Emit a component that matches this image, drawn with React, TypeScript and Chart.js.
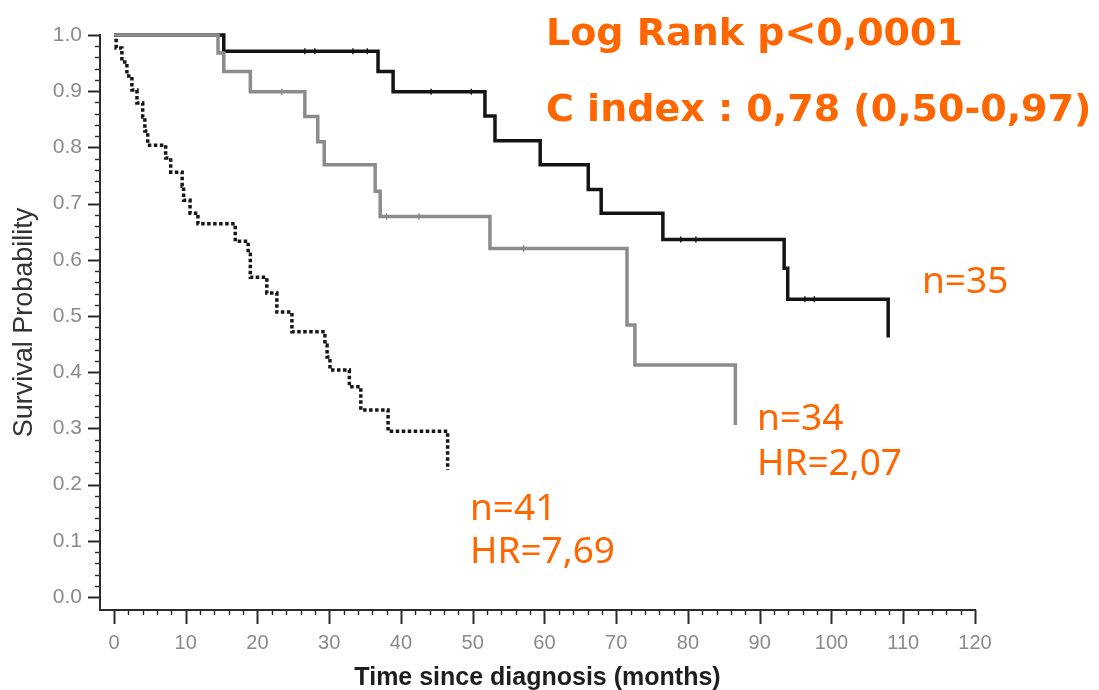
import React, { useEffect, useRef } from 'react';
import { Chart, registerables } from 'chart.js';

Chart.register(...registerables);

// ---- Data (months, survival probability) ----
// Group with best prognosis (n=35), solid black
const highTimes = [0, 15.3, 36.8, 38.9, 51.7, 53.1, 59.4, 66.1, 67.9, 76.5, 93.4, 93.9, 107.9];
const highSurv = [1, 0.971, 0.935, 0.899, 0.856, 0.812, 0.769, 0.725, 0.683, 0.636, 0.585, 0.53, 0.462];
const highCensorTimes = [26.6, 28.0, 33.3, 35.3, 44.2, 49.8, 79.0, 81.1, 96.3, 97.6];
const highCensorSurv = [0.971, 0.971, 0.971, 0.971, 0.899, 0.899, 0.636, 0.636, 0.53, 0.53];

// Intermediate group (n=34), solid grey
const midTimes = [0, 14.5, 15.3, 19.0, 26.6, 28.4, 29.3, 36.4, 37.1, 52.4, 71.5, 72.6, 86.6];
const midSurv = [1, 0.968, 0.935, 0.899, 0.855, 0.81, 0.769, 0.722, 0.677, 0.62, 0.484, 0.413, 0.306];
const midCensorTimes = [23.4, 38.0, 42.5, 57.1];
const midCensorSurv = [0.899, 0.677, 0.677, 0.62];

// Poor prognosis group (n=41), dotted black
const lowTimes = [0, 0.3, 1.1, 1.8, 2.5, 3.2, 4.0, 4.3, 4.7, 7.2, 7.9, 9.5, 9.7, 10.6, 11.7, 16.9, 18.7, 19.0, 21.3, 22.7, 24.8, 29.4, 29.7, 30.1, 32.8, 34.4, 38.2, 46.5];
const lowSurv = [1, 0.977, 0.952, 0.927, 0.902, 0.879, 0.854, 0.829, 0.804, 0.781, 0.756, 0.731, 0.706, 0.683, 0.664, 0.633, 0.61, 0.569, 0.541, 0.507, 0.472, 0.448, 0.427, 0.404, 0.374, 0.333, 0.295, 0.226];

// ---- Axis ticks ----
const xTickLabels = [0, 10, 20, 30, 40, 50, 60, 70, 80, 90, 100, 110, 120];
const xMinorTicks = [0, 2, 4, 6, 8, 10, 12, 14, 16, 18, 20, 22, 24, 26, 28, 30, 32, 34, 36, 38, 40, 42, 44, 46, 48, 50, 52, 54, 56, 58, 60, 62, 64, 66, 68, 70, 72, 74, 76, 78, 80, 82, 84, 86, 88, 90, 92, 94, 96, 98, 100, 102, 104, 106, 108, 110, 112, 114, 116, 118, 120];
const yTickLabels = [0, 0.1, 0.2, 0.3, 0.4, 0.5, 0.6, 0.7, 0.8, 0.9, 1.0];
const yMinorTicks = [0, 0.02, 0.04, 0.06, 0.08, 0.1, 0.12, 0.14, 0.16, 0.18, 0.2, 0.22, 0.24, 0.26, 0.28, 0.3, 0.32, 0.34, 0.36, 0.38, 0.4, 0.42, 0.44, 0.46, 0.48, 0.5, 0.52, 0.54, 0.56, 0.58, 0.6, 0.62, 0.64, 0.66, 0.68, 0.7, 0.72, 0.74, 0.76, 0.78, 0.8, 0.82, 0.84, 0.86, 0.88, 0.9, 0.92, 0.94, 0.96, 0.98, 1.0];

const annotationTexts = {
  logRank: 'Log Rank p<0,0001',
  cIndex: 'C index : 0,78 (0,50-0,97)',
  nHigh: 'n=35',
  nMid: 'n=34',
  hrMid: 'HR=2,07',
  nLow: 'n=41',
  hrLow: 'HR=7,69',
};

const toPoints = (xs: number[], ys: number[]) => xs.map((x, i) => ({ x, y: ys[i] }));

const ORANGE = '#ff6600';
const AXIS = '#2b2b2b';

const decorPlugin = {
  id: 'kmDecor',
  afterDraw(chart: any) {
    const { ctx, scales } = chart;
    const x = scales.x;
    const y = scales.y;
    ctx.save();
    ctx.strokeStyle = AXIS;
    ctx.lineCap = 'butt';
    // y-axis tick marks
    const axX = x.left;
    yMinorTicks.forEach((v) => {
      const major = yTickLabels.some((t) => Math.abs(t - v) < 1e-9);
      const py = Math.round(y.getPixelForValue(v)) + 0.5;
      ctx.lineWidth = major ? 2 : 1.4;
      ctx.beginPath();
      ctx.moveTo(axX - (major ? 12 : 5), py);
      ctx.lineTo(axX, py);
      ctx.stroke();
    });
    // x-axis tick marks
    const axY = y.bottom;
    xMinorTicks.forEach((v) => {
      const major = xTickLabels.includes(v);
      const px = Math.round(x.getPixelForValue(v)) + 0.5;
      ctx.lineWidth = major ? 2 : 1.4;
      ctx.beginPath();
      ctx.moveTo(px, axY);
      ctx.lineTo(px, axY + (major ? 14 : 5));
      ctx.stroke();
    });

    // annotations
    ctx.fillStyle = ORANGE;
    ctx.textAlign = 'left';
    ctx.textBaseline = 'alphabetic';
    ctx.font = 'bold 38px "DejaVu Sans", Verdana, sans-serif';
    ctx.fillText(annotationTexts.logRank, 546, 45);
    ctx.fillText(annotationTexts.cIndex, 546, 121);
    ctx.font = '37px "Noto Sans", sans-serif';
    ctx.fillText(annotationTexts.nHigh, 922, 293);
    ctx.fillText(annotationTexts.nMid, 757, 430);
    ctx.fillText(annotationTexts.hrMid, 757, 475);
    ctx.fillText(annotationTexts.nLow, 470, 520);
    ctx.fillText(annotationTexts.hrLow, 470, 563);
    ctx.restore();
  },
};

export default function App() {
  const canvasRef = useRef<HTMLCanvasElement | null>(null);

  useEffect(() => {
    document.body.style.margin = '0';
    const canvas = canvasRef.current;
    if (!canvas) return;

    const lineBase = {
      type: 'line' as const,
      stepped: 'before' as const,
      pointRadius: 0,
      fill: false,
      clip: false as any,
      tension: 0,
    };
    const censorBase = {
      type: 'scatter' as const,
      pointStyle: 'line' as const,
      rotation: 90,
      pointRadius: 3,
      borderWidth: 1.3,
      showLine: false,
      clip: false as any,
    };

    const chart = new Chart(canvas, {
      type: 'line',
      data: {
        datasets: [
          { ...lineBase, label: 'n=34', data: toPoints(midTimes, midSurv), borderColor: '#8c8c8c', borderWidth: 3.5 },
          { ...censorBase, label: 'n=34 censored', data: toPoints(midCensorTimes, midCensorSurv), borderColor: '#6e6e6e', backgroundColor: '#6e6e6e' },
          { ...lineBase, label: 'n=35', data: toPoints(highTimes, highSurv), borderColor: '#141414', borderWidth: 3.5 },
          { ...censorBase, label: 'n=35 censored', data: toPoints(highCensorTimes, highCensorSurv), borderColor: '#000', backgroundColor: '#000' },
          { ...lineBase, label: 'n=41', data: toPoints(lowTimes, lowSurv), borderColor: '#161616', borderWidth: 3.5, borderDash: [3.5, 2.5] },
        ] as any,
      },
      options: {
        animation: false,
        responsive: false,
        maintainAspectRatio: false,
        layout: { padding: { left: 0, right: 124, top: 35, bottom: 0 } },
        plugins: { legend: { display: false }, tooltip: { enabled: false } },
        scales: {
          x: {
            type: 'linear',
            min: -1.95,
            max: 120,
            afterFit: (s: any) => { s.height = 80; },
            afterBuildTicks: (s: any) => { s.ticks = xTickLabels.map((v) => ({ value: v })); },
            grid: { display: false, drawTicks: false },
            border: { display: true, color: AXIS, width: 2 },
            ticks: {
              autoSkip: false,
              maxRotation: 0,
              padding: 21,
              color: '#8a8a8a',
              font: { family: "'Liberation Sans', Arial, sans-serif", size: 20 },
              callback: (v: any) => String(v),
            },
            title: {
              display: true,
              text: 'Time since diagnosis (months)',
              color: '#1e1e1e',
              font: { family: "'Liberation Sans', Arial, sans-serif", size: 25, weight: 'bold' },
              padding: { top: 0, bottom: -3 },
            },
          },
          y: {
            type: 'linear',
            min: -0.023,
            max: 1,
            afterFit: (s: any) => { s.width = 100; },
            afterBuildTicks: (s: any) => { s.ticks = yTickLabels.map((v) => ({ value: v })); },
            grid: { display: false, drawTicks: false },
            border: { display: true, color: AXIS, width: 2 },
            ticks: {
              autoSkip: false,
              padding: 18,
              color: '#8a8a8a',
              font: { family: "'Liberation Sans', Arial, sans-serif", size: 21 },
              callback: (v: any) => Number(v).toFixed(1),
            },
            title: {
              display: true,
              text: 'Survival Probability',
              color: '#333333',
              font: { family: "'Liberation Sans', Arial, sans-serif", size: 27 },
              padding: { top: 8, bottom: 0 },
            },
          },
        },
      } as any,
      plugins: [decorPlugin],
    });

    return () => chart.destroy();
  }, []);

  return (
    <div style={{ width: 1099, height: 690, background: '#fff' }}>
      <canvas ref={canvasRef} width={1099} height={690} style={{ display: 'block' }} />
    </div>
  );
}
